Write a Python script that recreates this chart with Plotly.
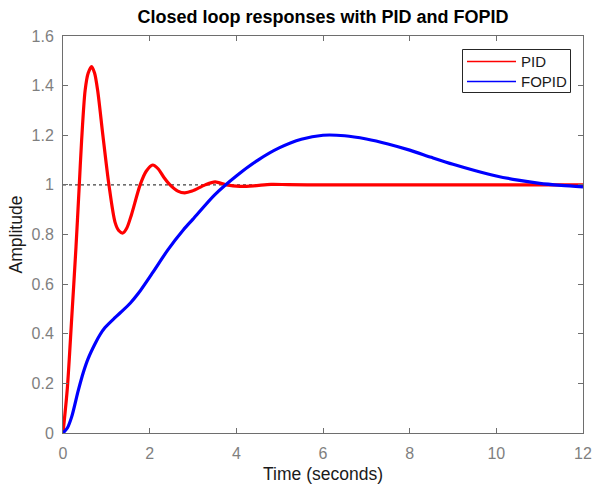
import plotly.graph_objects as go

# PID closed-loop step response
t_pid = [0, 0.1, 0.2, 0.3, 0.37, 0.43, 0.51, 0.58, 0.66, 0.73, 0.8, 0.92, 1.06, 1.2, 1.29,
         1.38, 1.47, 1.58, 1.78, 1.92, 2.07, 2.2, 2.33, 2.47, 2.65, 2.81, 2.98, 3.28, 3.51,
         3.77, 4.08, 4.4, 4.8, 5.2, 6, 7, 8, 9, 10, 11, 12]
y_pid = [0, 0.18, 0.46, 0.75, 0.98, 1.18, 1.38, 1.45, 1.477, 1.45, 1.38, 1.2, 1.0, 0.85, 0.815,
         0.806, 0.825, 0.88, 1.0, 1.055, 1.08, 1.064, 1.03, 1.0, 0.975, 0.968, 0.975, 1.0, 1.012,
         1.0, 0.994, 0.996, 1.002, 1.001, 1.0, 1.0, 1.0, 1.0, 1.0, 1.0, 1.0]

# FOPID closed-loop step response
t_fopid = [0, 0.1, 0.2, 0.35, 0.47, 0.58, 0.74, 0.85, 0.97, 1.2, 1.35, 1.55, 1.74, 2.06, 2.42,
           2.78, 3.0, 3.5, 4.0, 4.5, 5.0, 5.5, 6.0, 6.5, 7.0, 7.5, 8.0, 8.5, 9.0, 9.5, 10.0,
           10.5, 11.0, 11.5, 12.0]
y_fopid = [0, 0.02, 0.065, 0.17, 0.245, 0.3, 0.36, 0.395, 0.425, 0.465, 0.489, 0.523, 0.563,
           0.644, 0.738, 0.819, 0.862, 0.96, 1.036, 1.1, 1.15, 1.184, 1.2, 1.198, 1.185, 1.165,
           1.14, 1.111, 1.083, 1.058, 1.036, 1.019, 1.006, 0.998, 0.992]

# steady-state reference
t_ref = [0, 12]
y_ref = [1, 1]

series_names = ["PID", "FOPID"]
series_colors = ["#ff0000", "#0000ff"]

FONT = "Liberation Sans, Arial, Helvetica, sans-serif"
AXC = "#6e6e6e"
TICKC = "#7f7f7f"

L, R, T, B = 63, 583, 36, 433
W, H = R - L, B - T


def px(xp):
    return (xp - L) / W


def py(yp):
    return (B - yp) / H


fig = go.Figure()
fig.add_trace(go.Scatter(x=t_ref, y=y_ref, mode="lines", showlegend=False, hoverinfo="skip",
                         line=dict(color="#404040", width=1.2, dash="dot")))
fig.add_trace(go.Scatter(x=t_pid, y=y_pid, mode="lines", name=series_names[0], showlegend=False,
                         line=dict(color=series_colors[0], width=3.2, shape="spline", smoothing=0.8)))
fig.add_trace(go.Scatter(x=t_fopid, y=y_fopid, mode="lines", name=series_names[1], showlegend=False,
                         line=dict(color=series_colors[1], width=3.2, shape="spline", smoothing=0.8)))

# legend drawn by hand (box, line samples, labels)
shapes = [dict(type="rect", xref="paper", yref="paper", x0=px(462.5), x1=px(570.5),
               y0=py(92.5), y1=py(49.5), line=dict(color="#262626", width=1),
               fillcolor="white", layer="above")]
annotations = []
for i, (n, c) in enumerate(zip(series_names, series_colors)):
    yc = 61.5 + 20 * i
    shapes.append(dict(type="line", xref="paper", yref="paper", x0=px(467), x1=px(516),
                       y0=py(yc), y1=py(yc), line=dict(color=c, width=1.5), layer="above"))
    annotations.append(dict(text=n, xref="paper", yref="paper", x=px(519), y=py(yc),
                            xanchor="left", yanchor="middle", showarrow=False,
                            font=dict(family=FONT, size=15, color="#1a1a1a")))

axis_common = dict(showline=True, linecolor=AXC, linewidth=1, mirror="ticks",
                   ticks="inside", ticklen=5, tickcolor=AXC, showgrid=False, zeroline=False,
                   automargin=False,
                   tickfont=dict(family=FONT, size=16, color=TICKC))

fig.update_layout(
    width=592, height=486,
    margin=dict(l=L, r=592 - R, t=T, b=486 - B),
    paper_bgcolor="white", plot_bgcolor="white",
    showlegend=False,
    shapes=shapes, annotations=annotations,
    title=dict(text="Closed loop responses with PID and FOPID", x=(L + R) / 2 / 592,
               xanchor="center", y=1 - 17 / 486, yanchor="middle", yref="container",
               font=dict(family=FONT, size=18, color="#000000", weight="bold")),
    xaxis=dict(range=[0, 12], tickvals=[0, 2, 4, 6, 8, 10, 12], ticklabelstandoff=6,
               title=dict(text="Time (seconds)", standoff=6,
                          font=dict(family=FONT, size=17.5, color="#1a1a1a")),
               **axis_common),
    yaxis=dict(range=[0, 1.6], tickvals=[0, 0.2, 0.4, 0.6, 0.8, 1, 1.2, 1.4, 1.6],
               ticklabelstandoff=5,
               title=dict(text="Amplitude", standoff=4,
                          font=dict(family=FONT, size=17.5, color="#1a1a1a")),
               **axis_common),
)

fig.write_html("out.html")
